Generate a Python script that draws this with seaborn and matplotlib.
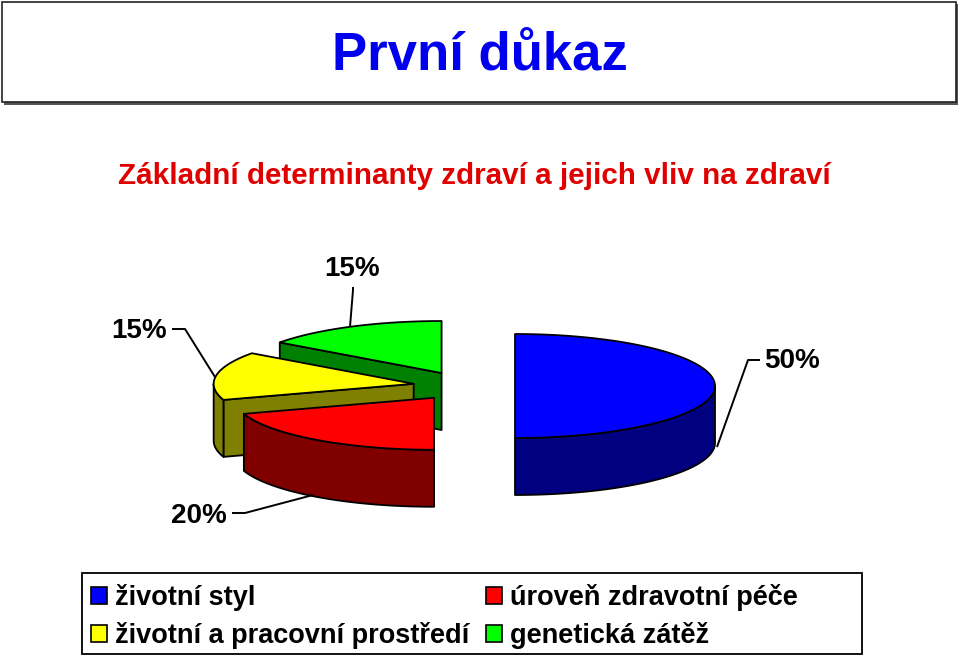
import numpy as np
import matplotlib
matplotlib.use("Agg")
import matplotlib.pyplot as plt
import seaborn as sns
from matplotlib.patches import Polygon, Rectangle, Patch

sns.set_theme(style="white")
plt.rcParams['font.family'] = ['Liberation Sans', 'DejaVu Sans']
plt.rcParams['text.color'] = 'black'

# ---- data ----
categories = ["životní styl", "úroveň zdravotní péče",
              "životní a pracovní prostředí", "genetická zátěž"]
values = [50, 20, 15, 15]
labels = ["50%", "20%", "15%", "15%"]
top_colors = ["#0000FF", "#FF0000", "#FFFF00", "#00FF00"]
side_colors = ["#000080", "#800000", "#808000", "#008000"]
explode = [0.24, 0.28, 0.27, 0.28]

title = "První důkaz"
subtitle = "Základní determinanty zdraví a jejich vliv na zdraví"

# ---- layout (pixel space) ----
W, H = 960, 657
fig = plt.figure(figsize=(9.6, 6.57), dpi=100)
ax = fig.add_axes([0, 0, 1, 1])
ax.set_xlim(0, W)
ax.set_ylim(H, 0)
ax.axis("off")

CX, CY = 467, 386      # pie centre
RX, RY = 200, 52       # ellipse radii
DEPTH = 57             # thickness
EC = "black"
LW = 1.3


def pt(cx, cy, a, dy=0):
    r = np.radians(a)
    return (cx + RX * np.cos(r), cy - RY * np.sin(r) + dy)


def arc(cx, cy, a0, a1, dy=0, n=80):
    return [pt(cx, cy, a, dy) for a in np.linspace(a0, a1, n)]


# slice angle ranges: start at 90 deg, clockwise
total = sum(values)
ranges = []
start = 90.0
for v in values:
    sweep = 360.0 * v / total
    ranges.append((start - sweep, start))   # (lo, hi) ccw
    start -= sweep

centres = []
for (lo, hi), e in zip(ranges, explode):
    mid = np.radians((lo + hi) / 2)
    centres.append((CX + e * RX * np.cos(mid), CY - e * RY * np.sin(mid)))

# draw back to front: green, yellow, red, blue
order = [3, 2, 1, 0]
for i in order:
    lo, hi = ranges[i]
    cx, cy = centres[i]
    sc, tc = side_colors[i], top_colors[i]
    # cut faces
    for ang, vis in ((hi, np.cos(np.radians(hi)) < -1e-6),
                     (lo, np.cos(np.radians(lo)) > 1e-6)):
        if vis:
            p = pt(cx, cy, ang)
            quad = [(cx, cy), p, (p[0], p[1] + DEPTH), (cx, cy + DEPTH)]
            ax.add_patch(Polygon(quad, closed=True, fc=sc, ec=EC, lw=LW,
                                 joinstyle="round"))
    # front arc side
    for k in (-1, 0, 1):
        a0 = max(lo, 180 + 360 * k)
        a1 = min(hi, 360 + 360 * k)
        if a1 - a0 > 1e-6:
            top = arc(cx, cy, a0, a1)
            bot = arc(cx, cy, a1, a0, dy=DEPTH)
            ax.add_patch(Polygon(top + bot, closed=True, fc=sc, ec=EC, lw=LW,
                                 joinstyle="round"))
    # top face
    face = [(cx, cy)] + arc(cx, cy, lo, hi)
    ax.add_patch(Polygon(face, closed=True, fc=tc, ec=EC, lw=LW,
                         joinstyle="round"))

# ---- data labels with leader lines ----
lab_font = dict(fontsize=20, fontweight="bold", color="black")
leaders = [
    ([(717, 447), (748, 360), (760, 360)], (764, 361), "left"),   # 50%
    ([(313, 495), (245, 513), (232, 513)], (227, 516), "right"),  # 20%
    ([(215, 377), (185, 329), (172, 329)], (167, 331), "right"),  # 15% yellow
    ([(350, 327), (353, 290), (353, 287)], (352, 269), "center"), # 15% green
]
for lab, (line, tp, ha) in zip(labels, leaders):
    xs, ys = zip(*line)
    ax.plot(xs, ys, color="black", lw=1.4, solid_capstyle="butt")
    ax.text(tp[0], tp[1], lab, ha=ha, va="center", **lab_font)

# ---- title box ----
ax.add_patch(Rectangle((4, 4), 954, 101, fc="#555555", ec="none"))
ax.add_patch(Rectangle((1.5, 1.5), 954, 100, fc="white", ec="#222222", lw=1.2))
ax.text(480, 56, title, ha="center", va="center", fontsize=38,
        fontweight="bold", color="#0000EE")

ax.text(474, 176, subtitle, ha="center", va="center", fontsize=21.3,
        fontweight="bold", color="#E00000")

# ---- legend ----
ax.add_patch(Rectangle((82, 572.5), 780, 81, fc="white", ec="black", lw=1.3))
handles = [Patch(fc=top_colors[i], ec="black", lw=1.2) for i in (0, 2, 1, 3)]
leg_labels = [categories[i] for i in (0, 2, 1, 3)]
leg = fig.legend(handles, leg_labels, ncol=2, loc="upper left",
                 bbox_to_anchor=(91 / W, 1 - 584 / H),
                 frameon=False,
                 prop=dict(size=19.5, weight="bold"),
                 handlelength=0.6, handleheight=0.6, handletextpad=0.3,
                 columnspacing=0.6, labelspacing=0.42, borderpad=0.0,
                 borderaxespad=0)
for t in leg.get_texts():
    t.set_color("black")

fig.savefig("out.png", dpi=100)
